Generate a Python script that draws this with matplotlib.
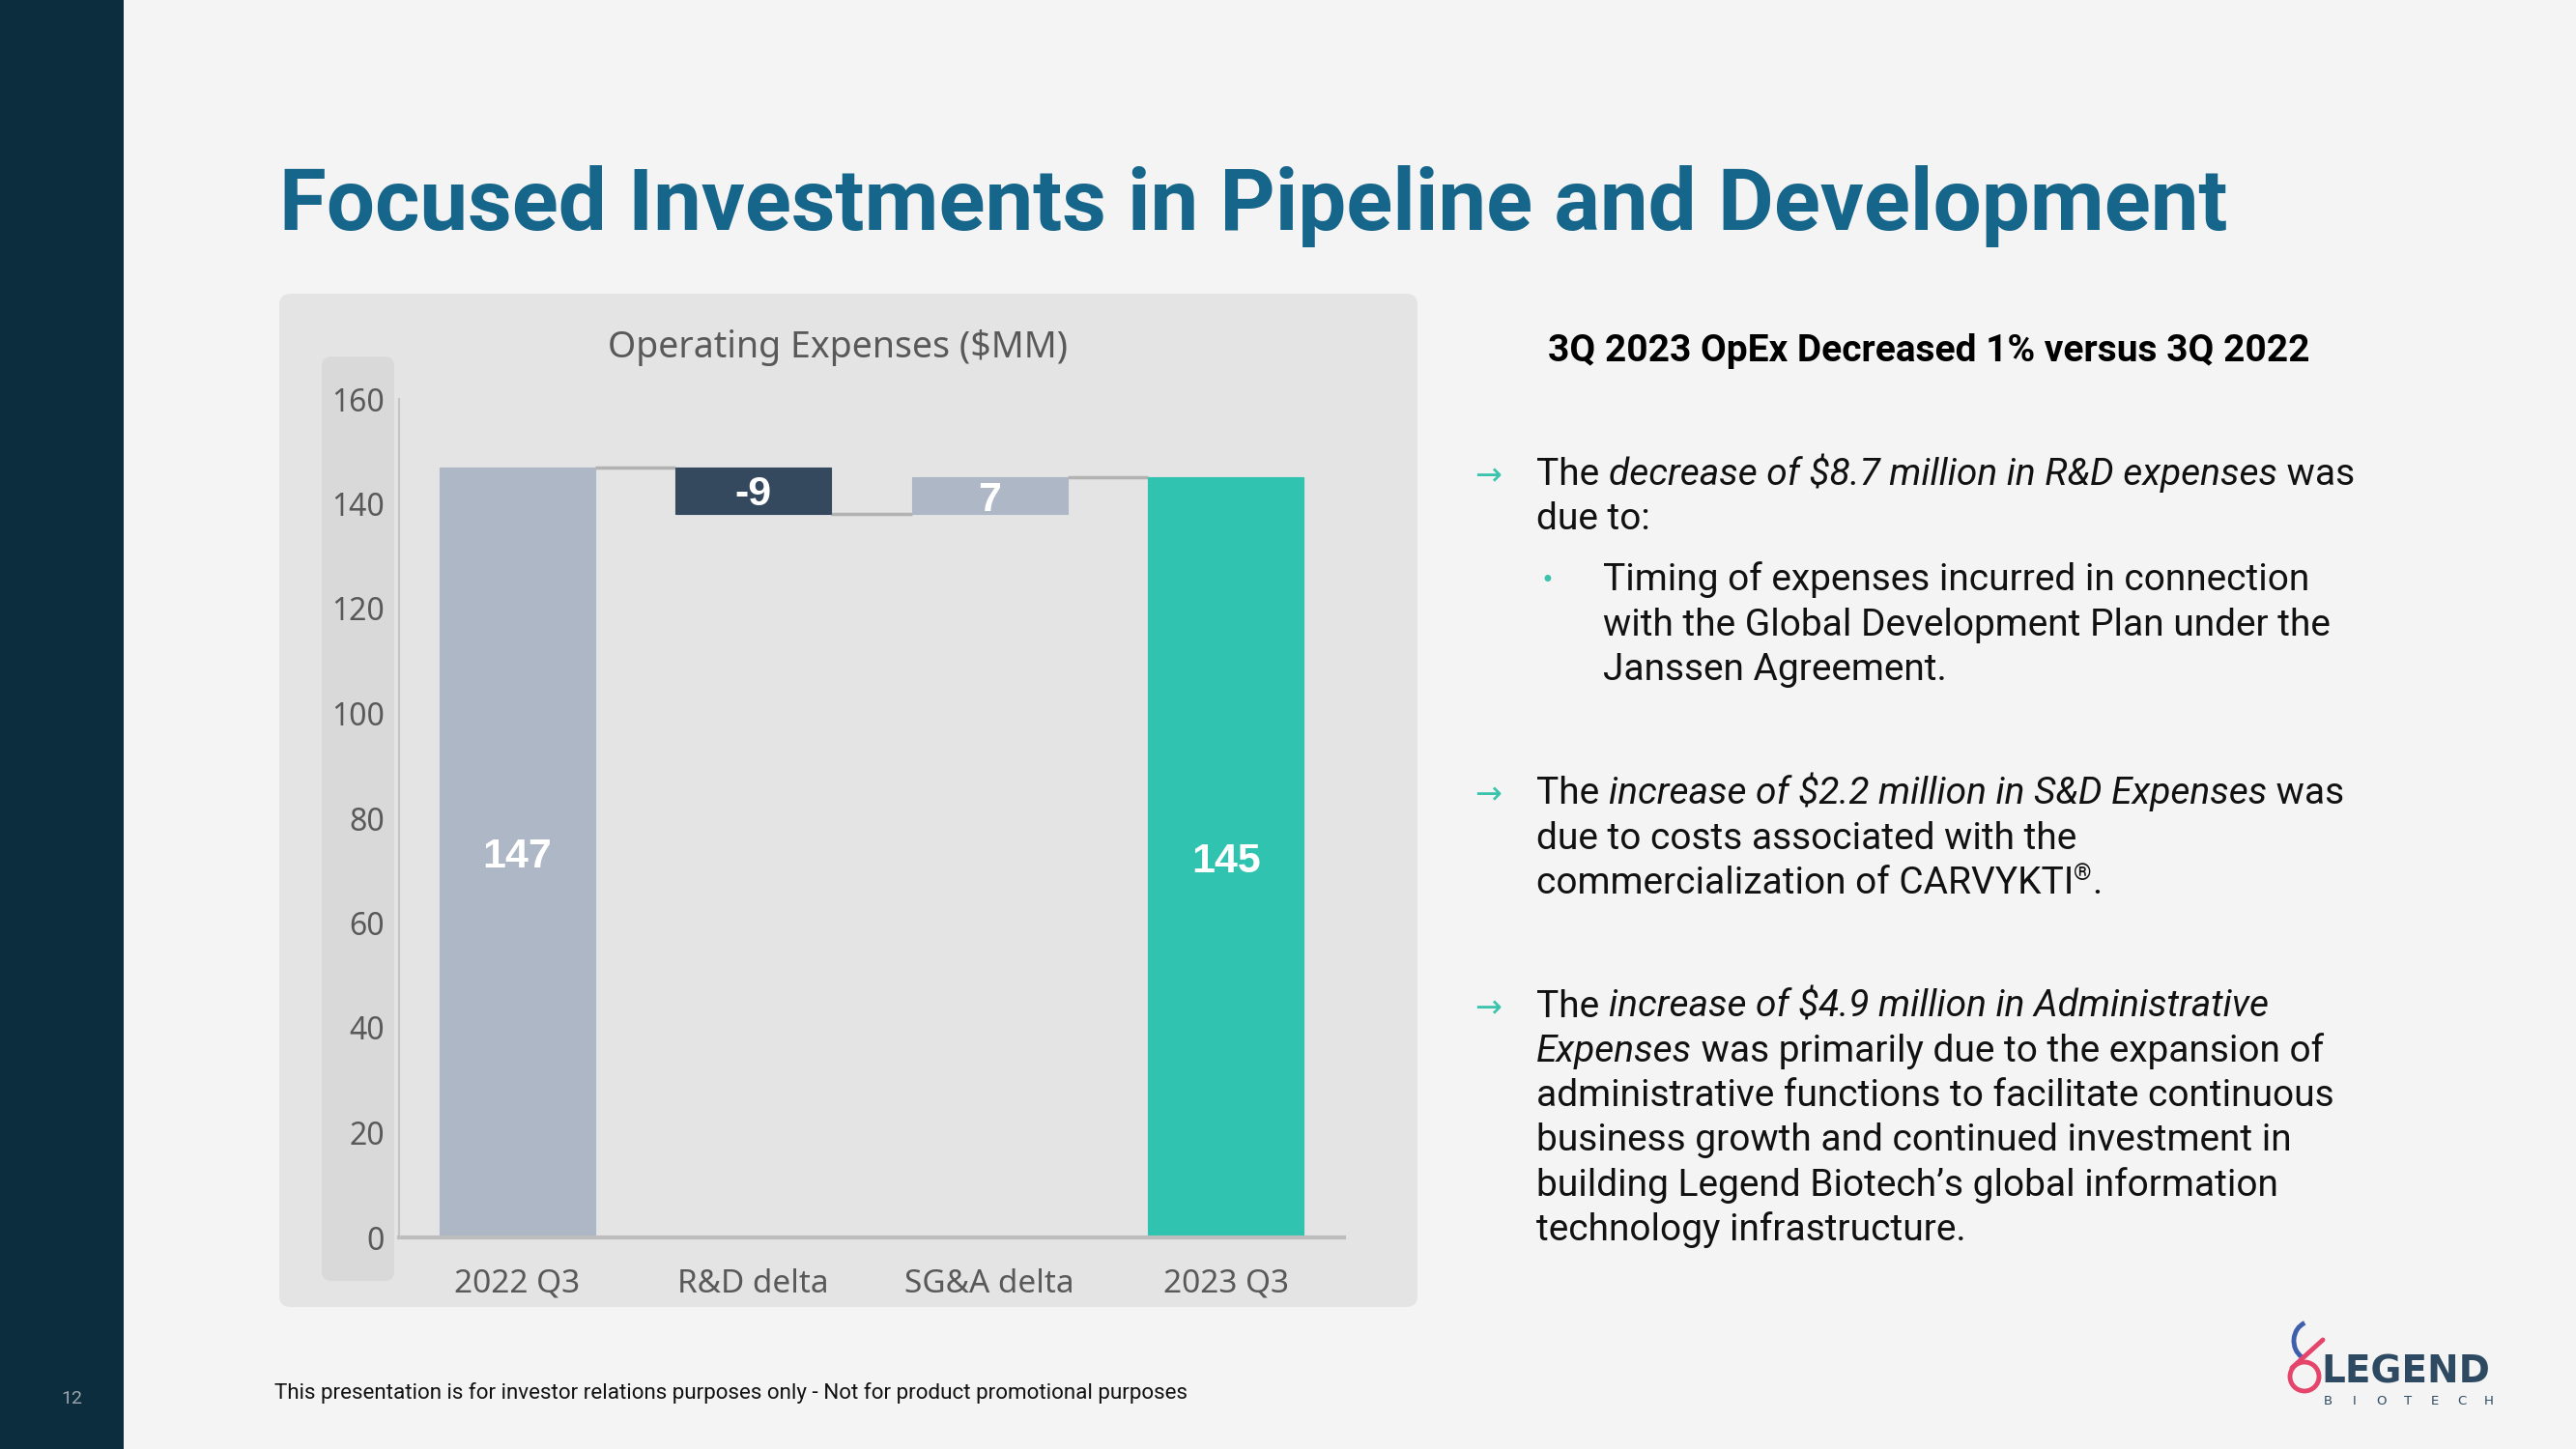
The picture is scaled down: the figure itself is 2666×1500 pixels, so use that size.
import matplotlib
matplotlib.use("Agg")
import matplotlib.pyplot as plt
from matplotlib.patches import FancyBboxPatch, Rectangle, Circle, Arc
import numpy as np

# waterfall data
categories = ["2022 Q3", "R&D delta", "SG&A delta", "2023 Q3"]
start_value = 147
deltas = [-9, 7]
end_value = 145
bar_labels = ["147", "-9", "7", "145"]
bar_colors = ["#adb7c5", "#34495e", "#adb7c5", "#2fc3b0"]
y_ticks = [0, 20, 40, 60, 80, 100, 120, 140, 160]

title = "Focused Investments in Pipeline and Development"
chart_title = "Operating Expenses ($MM)"
heading = "3Q 2023 OpEx Decreased 1% versus 3Q 2022"
footer = "This presentation is for investor relations purposes only - Not for product promotional purposes"
page_no = "12"

# right hand text: list of lines, each a list of (text, style) pieces
bullet1 = [
    [("The ", "n"), ("decrease of $8.7 million in R&D expenses", "i"), (" was", "n")],
    [("due to:", "n")],
]
sub1 = [
    [("Timing of expenses incurred in connection", "n")],
    [("with the Global Development Plan under the", "n")],
    [("Janssen Agreement.", "n")],
]
bullet2 = [
    [("The ", "n"), ("increase of $2.2 million in S&D Expenses", "i"), (" was", "n")],
    [("due to costs associated with the", "n")],
    [("commercialization of CARVYKTI", "n"), ("®", "sup"), (".", "n")],
]
bullet3 = [
    [("The ", "n"), ("increase of $4.9 million in Administrative", "i")],
    [("Expenses", "i"), (" was primarily due to the expansion of", "n")],
    [("administrative functions to facilitate continuous", "n")],
    [("business growth and continued investment in", "n")],
    [("building Legend Biotech\u2019s global information", "n")],
    [("technology infrastructure.", "n")],
]

W, H = 2666, 1500
fig = plt.figure(figsize=(W / 100, H / 100), dpi=100)
fig.patch.set_facecolor("#f4f4f4")

# background axes in pixel coords (y down)
bg = fig.add_axes([0, 0, 1, 1], zorder=0)
bg.set_xlim(0, W)
bg.set_ylim(H, 0)
bg.axis("off")

bg.add_patch(Rectangle((0, 0), 128, H, color="#0c2d3e", lw=0))
bg.add_patch(FancyBboxPatch((289, 304), 1178, 1049, boxstyle="round,pad=0,rounding_size=12",
                            fc="#e4e4e4", ec="none"))
bg.add_patch(FancyBboxPatch((333, 369), 75, 957, boxstyle="round,pad=0,rounding_size=10",
                            fc="#d9d9d9", ec="none"))

bg.text(289, 213, title, fontsize=64, fontweight="bold", family="Roboto", color="#16658a",
        va="center", ha="left")
bg.text(867, 360, chart_title, fontsize=27, family="Noto Sans", color="#595959",
        va="center", ha="center", parse_math=False)

# chart
ax = fig.add_axes([413 / W, (H - 1281) / H, 978 / W, 868 / H], zorder=1)
ax.set_facecolor("none")
x = np.arange(len(categories))
bottoms = [0]
heights = [start_value]
levels = [start_value]
running = start_value
for d in deltas:
    new = running + d
    bottoms.append(min(running, new))
    heights.append(abs(d))
    running = new
    levels.append(running)
bottoms.append(0)
heights.append(end_value)

bw = 0.66
ax.bar(x, heights, bottom=bottoms, width=bw, color=bar_colors, edgecolor=bar_colors, lw=0.8, zorder=2)
for i in range(len(levels)):
    ax.plot([x[i] + bw / 2, x[i + 1] - bw / 2], [levels[i], levels[i]], color="#b2b2b2", lw=2.5,
            solid_capstyle="butt", zorder=1)
for i in range(len(categories)):
    ax.text(x[i], bottoms[i] + heights[i] / 2, bar_labels[i], ha="center", va="center_baseline",
            color="white", fontsize=31, fontweight="bold", family="Liberation Sans")

ax.set_xlim(-0.5, 3.5)
ax.set_ylim(0, 160)
ax.set_yticks(y_ticks)
ax.set_xticks(x)
ax.set_xticklabels(categories)
for s in ["top", "right"]:
    ax.spines[s].set_visible(False)
ax.spines["left"].set_color("#c4c4c4")
ax.spines["left"].set_linewidth(1.5)
ax.spines["bottom"].set_color("#bdbdbd")
ax.spines["bottom"].set_linewidth(3)
ax.tick_params(axis="y", length=0, pad=11, labelsize=23, labelcolor="#595959")
ax.tick_params(axis="x", length=0, pad=23, labelsize=24, labelcolor="#595959")
for lab in ax.get_xticklabels() + ax.get_yticklabels():
    lab.set_family("Noto Sans")

# right side text
renderer = fig.canvas.get_renderer()
body = dict(family=["Roboto", "DejaVu Sans"], fontsize=28, color="#111111", parse_math=False)


def piece_kw(style):
    kw = dict(body)
    if style == "i":
        kw["style"] = "italic"
    if style == "sup":
        kw["fontsize"] = 17
    return kw


def width_of(s, kw):
    t1 = bg.text(0, 0, "|" + s + "|", **kw)
    t2 = bg.text(0, 0, "||", **kw)
    w = t1.get_window_extent(renderer).width - t2.get_window_extent(renderer).width
    t1.remove()
    t2.remove()
    return w


def draw_line(x0, y, pieces):
    xx = x0
    for s, style in pieces:
        kw = piece_kw(style)
        yy = y - 14 if style == "sup" else y
        bg.text(xx, yy, s, ha="left", va="baseline", **kw)
        xx += width_of(s, kw)


bg.text(1996, 364, heading, fontsize=28, fontweight="bold", family="Roboto", color="#000000",
        ha="center", va="center")

arrow_kw = dict(family=["DejaVu Sans"], fontsize=24, color="#3cc3ad", ha="center", va="center")


def block(lines, ys, x0):
    for ln, y in zip(lines, ys):
        draw_line(x0, y + 14, ln)


bg.text(1540, 493, "\u2192", **arrow_kw)
block(bullet1, [488, 534], 1590)
bg.text(1601, 601, "\u2022", family="DejaVu Sans", fontsize=17, color="#3cc3ad", ha="center", va="center")
block(sub1, [597, 644, 690], 1659)
bg.text(1540, 823, "\u2192", **arrow_kw)
block(bullet2, [818, 865, 911], 1590)
bg.text(1540, 1044, "\u2192", **arrow_kw)
block(bullet3, [1039, 1085, 1131, 1177, 1224, 1270], 1590)

# footer
bg.text(284, 1442, footer, fontsize=16.1, family="Roboto", color="#111111", ha="left", va="center")
bg.text(74, 1448, page_no, fontsize=14, family="Roboto", color="#9aa5ad", ha="center", va="center")

# logo
bg.add_patch(Arc((2392, 1388), 36, 40, theta1=120, theta2=250, color="#3f5fae", lw=3.5))
bg.add_patch(Circle((2385, 1425), 15, fc="none", ec="#e5456a", lw=3.5))
bg.plot([2372, 2404], [1416, 1387], color="#e5456a", lw=3.5, solid_capstyle="round")
bg.text(2402, 1420, "LEGEND", fontsize=28, fontweight="bold", family="DejaVu Sans", color="#2d4a62",
        ha="left", va="center")
for i, ch in enumerate("BIOTECH"):
    bg.text(2409 + i * 27.8, 1450, ch, fontsize=9.5, family="DejaVu Sans", color="#2d4a62",
            ha="center", va="center")

fig.savefig("out.png", dpi=100, facecolor=fig.get_facecolor())
